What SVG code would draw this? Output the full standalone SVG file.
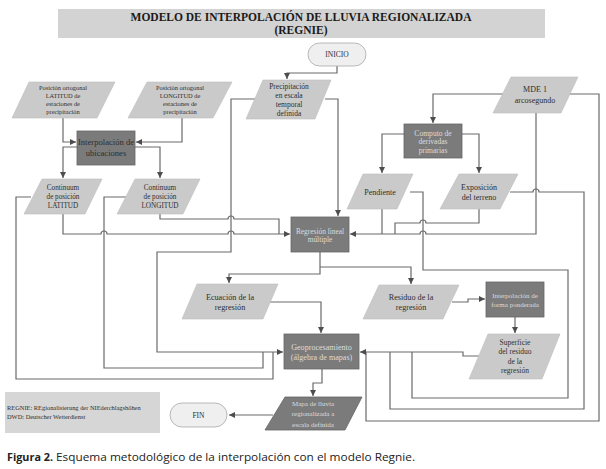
<svg xmlns="http://www.w3.org/2000/svg" width="606" height="469" viewBox="0 0 606 469">
<defs>
<marker id="arr" markerWidth="6" markerHeight="6" refX="6" refY="3" orient="auto" markerUnits="userSpaceOnUse">
<path d="M0,0 L6,3 L0,6 z" fill="#4d4d4d"/>
</marker>
<style>
.bg{fill:#ffffff}
.title{fill:#d3d3d3}
.io{fill:#cacaca;stroke:#bdbdbd;stroke-width:0.6}
.proc{fill:#7b7b7b;stroke:#666;stroke-width:0.8}
.pill{fill:#efefef;stroke:#a8a8a8;stroke-width:0.8}
.leg{fill:#d6d6d6}
.c{fill:none;stroke:#6a6a6a;stroke-width:1.2}
.ca{fill:none;stroke:#6a6a6a;stroke-width:1.2;marker-end:url(#arr)}
text{font-family:"Liberation Serif","Times New Roman",serif;fill:#2e2e2e;text-anchor:middle}
.lt{fill:#dcdcdc}
.tt{font-weight:bold;font-size:11.5px;fill:#1a1a1a}
</style>
</defs>
<rect class="bg" x="0" y="0" width="606" height="469"/>

<g id="title">
<rect class="title" x="58" y="9" width="487" height="29"/>
<text class="tt" x="301" y="21">MODELO DE INTERPOLACIÓN DE LLUVIA REGIONALIZADA</text>
<text class="tt" x="301" y="33.5">(REGNIE)</text>
</g>

<g id="connectors">
<path class="ca" d="M337,66 V73 H287 V79"/>
<path class="ca" d="M325,99 H338 V216"/>
<path class="ca" d="M257,99 H231 V252 H157 V352 H283"/>
<path class="ca" d="M63,118 V142 H76"/>
<path class="ca" d="M182,118 V142 H136"/>
<path class="ca" d="M77,147 H63 V178"/>
<path class="ca" d="M135,147 H160 V178"/>
<path class="ca" d="M63,214 V234 H101 a3,3 0 0 1 6,0 H228 a3,3 0 0 1 6,0 H290"/>
<path class="c" d="M160,214 V219 H228 a3,3 0 0 1 6,0 H279 V234"/>
<path class="c" d="M31,197 H16 V379 H273 V352"/>
<path class="c" d="M126,197 H104 V368 H263 V352"/>
<path class="c" d="M382,209 V234"/>
<path class="c" d="M479,209 V223 H426 a3,3 0 0 0 -6,0 H395 V234"/>
<path class="ca" d="M536,113 V234 H426 a3,3 0 0 0 -6,0 H350"/>
<path class="ca" d="M507,94 H433 V123"/>
<path class="ca" d="M404,134 H382 V173"/>
<path class="ca" d="M462,134 H479 V173"/>
<path class="c" d="M410,192 H423 V270 H568 V398 H412 V352"/>
<path class="c" d="M510,192 H533 a3,3 0 0 1 6,0 H584 V409 H390 V352"/>
<path class="c" d="M569,94 H599 V421 H366 V352"/>
<path class="ca" d="M480,356 H463 V352 H360"/>
<path class="ca" d="M320,252 V274 H229 V283"/>
<path class="ca" d="M320,267 H411 V284"/>
<path class="ca" d="M270,302 H321 V333"/>
<path class="ca" d="M452,302 H468 V299 H485"/>
<path class="ca" d="M515,317 V333"/>
<path class="ca" d="M322,369 V383 H313 V396"/>
<path class="ca" d="M273,415 H229"/>
</g>

<g id="inicio">
<rect class="pill" x="308" y="43" width="58" height="23" rx="11.5"/>
<text x="337" y="57" font-size="7.5">INICIO</text>
</g>

<g id="posLat">
<polygon class="io" points="29,82 115,82 97,118 12,118"/>
<text font-size="6.4" x="63" y="89.5">Posición ortogonal<tspan x="63" dy="8.2">LATITUD de</tspan><tspan x="63" dy="8.2">estaciones de</tspan><tspan x="63" dy="8.2">precipitación</tspan></text>
</g>

<g id="posLong">
<polygon class="io" points="147,82 232,82 213,118 128,118"/>
<text font-size="6.4" x="180" y="89.5">Posición ortogonal<tspan x="180" dy="8.2">LONGITUD de</tspan><tspan x="180" dy="8.2">estaciones de</tspan><tspan x="180" dy="8.2">precipitación</tspan></text>
</g>

<g id="precip">
<polygon class="io" points="263,80 331,80 315,119 246,119"/>
<text font-size="7.5" x="289" y="88.5">Precipitación<tspan x="289" dy="9">en escala</tspan><tspan x="289" dy="9">temporal</tspan><tspan x="289" dy="9">definida</tspan></text>
</g>

<g id="interpUbic">
<rect class="proc" x="77" y="131" width="58" height="34"/>
<text font-size="8.6" x="106" y="145">Interpolación de<tspan x="106" dy="10.5">ubicaciones</tspan></text>
</g>

<g id="contLat">
<polygon class="io" points="42,179 102,179 85,214 24,214"/>
<text font-size="7.2" x="63" y="189.5">Continuum<tspan x="63" dy="9">de posición</tspan><tspan x="63" dy="9">LATITUD</tspan></text>
</g>

<g id="contLong">
<polygon class="io" points="135,179 200,179 183,214 117,214"/>
<text font-size="7.2" x="160" y="189.5">Continuum<tspan x="160" dy="9">de posición</tspan><tspan x="160" dy="9">LONGITUD</tspan></text>
</g>

<g id="mde">
<polygon class="io" points="511,77 578,77 561,113 493,113"/>
<text font-size="8" x="535" y="92">MDE 1<tspan x="535" dy="11">arcosegundo</tspan></text>
</g>

<g id="computo">
<rect class="proc" x="404" y="124" width="58" height="34"/>
<text class="lt" font-size="7.6" x="433" y="135.5">Computo de<tspan x="433" dy="8.7">derivadas</tspan><tspan x="433" dy="8.7">primarias</tspan></text>
</g>

<g id="pendiente">
<polygon class="io" points="363,174 413,174 397,209 347,209"/>
<text font-size="8" x="380" y="194.5">Pendiente</text>
</g>

<g id="exposicion">
<polygon class="io" points="459,174 518,174 500,209 440,209"/>
<text font-size="8" x="479" y="189.5">Exposición<tspan x="479" dy="10">del terreno</tspan></text>
</g>

<g id="regresion">
<rect class="proc" x="291" y="217" width="58" height="35"/>
<text class="lt" font-size="7.4" x="320" y="233.5">Regresión lineal<tspan x="320" dy="8.5">múltiple</tspan></text>
</g>

<g id="ecuacion">
<polygon class="io" points="197,284 278,284 263,319 182,319"/>
<text font-size="8.2" x="230" y="299.5">Ecuación de la<tspan x="230" dy="10">regresión</tspan></text>
</g>

<g id="residuo">
<polygon class="io" points="379,285 459,285 443,319 363,319"/>
<text font-size="8.2" x="411" y="299.5">Residuo de la<tspan x="411" dy="10">regresión</tspan></text>
</g>

<g id="interpPond">
<rect class="proc" x="486" y="282" width="58" height="35"/>
<text class="lt" font-size="7" x="515" y="297.5">Interpolación de<tspan x="515" dy="9">forma ponderada</tspan></text>
</g>

<g id="superficie">
<polygon class="io" points="488,334 560,334 542,379 469,379"/>
<text font-size="7.5" x="515" y="344.5">Superficie<tspan x="515" dy="9.6">del residuo</tspan><tspan x="515" dy="9.6">de la</tspan><tspan x="515" dy="9.6">regresión</tspan></text>
</g>

<g id="geoproc">
<rect class="proc" x="284" y="334" width="75" height="35"/>
<text class="lt" font-size="8.1" x="321.5" y="349.5">Geoprocesamiento<tspan x="321.5" dy="10">(álgebra de mapas)</tspan></text>
</g>

<g id="mapa">
<polygon class="proc" points="285,397 362,397 345,430 265,430"/>
<text class="lt" font-size="7" x="313" y="405.5">Mapa de lluvia<tspan x="313" dy="10.8">regionalizada a</tspan><tspan x="313" dy="10.8">escala definida</tspan></text>
</g>

<g id="fin">
<rect class="pill" x="170" y="403" width="57" height="24" rx="12"/>
<text x="198.5" y="417.5" font-size="7.5">FIN</text>
</g>

<g id="legend">
<rect class="leg" x="5" y="392" width="155" height="41"/>
<text font-size="6.4" x="7" y="410" style="text-anchor:start">REGNIE: REgionalisierung der NIEderchlagshöhen</text>
<text font-size="6.4" x="7" y="418.5" style="text-anchor:start">DWD: Deutscher Wetterdienst</text>
</g>

<g id="caption">
<text x="7" y="461" style="text-anchor:start;font-family:'Open Sans','Liberation Sans',sans-serif;font-weight:bold;fill:#222" font-size="10.5" textLength="46" lengthAdjust="spacingAndGlyphs">Figura 2.</text>
<text x="56" y="461" style="text-anchor:start;font-family:'Open Sans','Liberation Sans',sans-serif;fill:#222" font-size="10.5" textLength="359" lengthAdjust="spacingAndGlyphs">Esquema metodológico de la interpolación con el modelo Regnie.</text>
</g>
</svg>
